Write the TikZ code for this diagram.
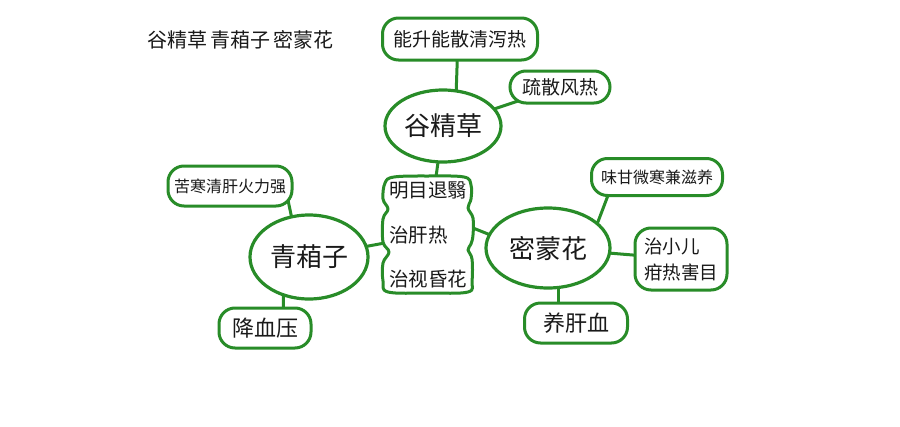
\documentclass[tikz,border=0pt]{standalone}
\usepackage{fontspec}
\setmainfont{Noto Sans CJK SC}
\usetikzlibrary{backgrounds,shapes.geometric}
\definecolor{mygreen}{RGB}{40,140,40}
\definecolor{ink}{RGB}{25,25,25}
\begin{document}
\begin{tikzpicture}[x=1pt,y=-1pt,
  bubble/.style={draw=mygreen, line width=3pt, fill=white, rounded corners=16pt,
    inner sep=0pt, text=ink, align=center},
  herb/.style={ellipse, draw=mygreen, line width=3.2pt, fill=white, inner sep=0pt,
    text=ink, font=\fontsize{26pt}{30pt}\selectfont},
  link/.style={draw=mygreen, line width=3pt},
  outline/.style={draw=mygreen, line width=3pt, fill=white, line join=round}]
\useasboundingbox (0,0) rectangle (900,426);

% title
\node[text=ink, font=\fontsize{20pt}{24pt}\selectfont] (title) at (240,40)
  {谷精草\hspace{3pt}青葙子\hspace{3pt}密蒙花};

% 谷精草 branch
\node[bubble, minimum width=155pt, minimum height=42pt, font=\fontsize{19pt}{23pt}\selectfont]
  (nsh) at (460,39) {能升能散清泻热};
\node[bubble, minimum width=100pt, minimum height=32pt, font=\fontsize{19pt}{23pt}\selectfont]
  (ssf) at (560,87) {疏散风热};
\node[herb, minimum width=116pt, minimum height=72pt] (gjc) at (443,126) {谷精草};

% centre
\node[text=ink, align=left, inner sep=0pt, font=\fontsize{19.5pt}{44.5pt}\selectfont]
  (cb) at (428,235) {明目退翳\\治肝热\\治视昏花};

% 青葙子 branch
\node[bubble, minimum width=124pt, minimum height=40pt, font=\fontsize{16pt}{20pt}\selectfont]
  (kh) at (230,186) {苦寒清肝火力强};
\node[herb, minimum width=118pt, minimum height=84pt] (qxz) at (309,257) {青葙子};
\node[bubble, minimum width=92pt, minimum height=40pt, font=\fontsize{22pt}{26pt}\selectfont]
  (jxy) at (265,328) {降血压};

% 密蒙花 branch
\node[herb, minimum width=124pt, minimum height=80pt] (mmh) at (548,248) {密蒙花};
\node[bubble, minimum width=131pt, minimum height=37pt, font=\fontsize{16pt}{20pt}\selectfont]
  (wg) at (657,177) {味甘微寒兼滋养};
\node[bubble, minimum width=92pt, minimum height=62pt, align=left,
  font=\fontsize{18.5pt}{26pt}\selectfont]
  (zx) at (681,259) {治小儿\\疳热害目};
\node[bubble, minimum width=103pt, minimum height=40pt, font=\fontsize{22pt}{26pt}\selectfont]
  (ygx) at (576,323) {养肝血};

\begin{scope}[on background layer]
  \fill[white] (0,0) rectangle (900,426);
  \draw[link] ([xshift=-2pt]nsh.center) -- ([xshift=12pt]gjc.center);
  \draw[link] (ssf.center) -- (gjc.center);
  \draw[link] (gjc.center) -- (cb.center);
  \draw[link] (qxz.center) -- (cb.center);
  \draw[link] ([xshift=55pt]kh.center) -- ([xshift=-9pt]qxz.center);
  \draw[link] ([xshift=-25pt]qxz.center) -- ([xshift=18pt]jxy.center);
  \draw[link] ([yshift=25pt]cb.center) -- ([yshift=-10pt]mmh.center);
  \draw[link] ([xshift=40pt]mmh.center) -- ([xshift=-42pt]wg.center);
  \draw[link] (mmh.center) -- (zx.center);
  \draw[link] ([xshift=10pt]mmh.center) -- ([xshift=-18pt]ygx.center);
  \begin{scope}[shift={(cb.center)}]
    \path[outline] plot[smooth cycle, tension=0.6] coordinates {
      (-34,-58) (0,-59) (36,-58) (43,-50) (43,-36) (40,-27) (45,-17)
      (45,0) (43,9) (40,15) (44,24) (44,46) (40,57) (0,58) (-40,57)
      (-45,46) (-45,28) (-39,17) (-45,7) (-45,-16) (-40,-26) (-45,-36)
      (-43,-52)};
  \end{scope}
\end{scope}
\end{tikzpicture}
\end{document}
